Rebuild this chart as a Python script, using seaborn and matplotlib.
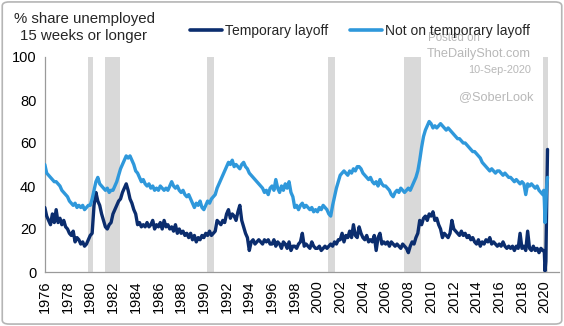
import numpy as np
import pandas as pd
import matplotlib
matplotlib.use("Agg")
import matplotlib.pyplot as plt
import seaborn as sns
from matplotlib.patches import FancyBboxPatch
from matplotlib.lines import Line2D

# ---------------- data ----------------
start_year = 1976
steps_per_year = 6  # bi-monthly readings

temp_layoff = [
    30, 26, 24, 22, 27, 23,   # 1976
    29, 23, 25, 22, 24, 21,   # 1977
    20, 18, 17, 19, 14, 16,   # 1978
    15, 13, 14, 12, 13, 15,   # 1979
    17, 18, 31, 37, 33, 31,   # 1980
    27, 24, 21, 20, 22, 23,   # 1981
    27, 29, 31, 33, 34, 37,   # 1982
    39, 41, 38, 34, 32, 29,   # 1983
    27, 22, 23, 21, 22, 21,   # 1984
    23, 21, 22, 24, 20, 22,   # 1985
    21, 23, 20, 24, 21, 22,   # 1986
    20, 21, 19, 22, 18, 20,   # 1987
    18, 19, 17, 18, 16, 18,   # 1988
    15, 17, 14, 16, 15, 17,   # 1989
    16, 18, 17, 19, 17, 18,   # 1990
    19, 24, 23, 22, 24, 23,   # 1991
    27, 29, 25, 27, 26, 24,   # 1992
    28, 31, 24, 21, 18, 16,   # 1993
    10, 14, 15, 13, 14, 15,   # 1994
    14, 13, 15, 14, 15, 13,   # 1995
    13, 15, 12, 14, 13, 11,   # 1996
    14, 13, 11, 14, 10, 12,   # 1997
    12, 11, 13, 14, 18, 12,   # 1998
    13, 12, 11, 14, 12, 11,   # 1999
    11, 12, 10, 11, 12, 11,   # 2000
    12, 13, 12, 14, 13, 15,   # 2001
    15, 18, 14, 17, 16, 19,   # 2002
    16, 22, 17, 16, 21, 18,   # 2003
    16, 15, 17, 14, 15, 14,   # 2004
    17, 10, 16, 18, 13, 14,   # 2005
    13, 14, 12, 14, 13, 12,   # 2006
    13, 12, 11, 13, 12, 11,   # 2007
    9, 12, 14, 13, 16, 18,    # 2008
    24, 22, 25, 26, 24, 27,   # 2009
    26, 28, 24, 25, 22, 20,   # 2010
    16, 18, 17, 16, 18, 24,   # 2011
    20, 19, 18, 17, 19, 17,   # 2012
    18, 16, 17, 15, 16, 14,   # 2013
    13, 15, 12, 14, 13, 15,   # 2014
    14, 16, 13, 14, 13, 12,   # 2015
    13, 12, 14, 12, 11, 12,   # 2016
    11, 12, 10, 12, 11, 18,   # 2017
    11, 12, 10, 19, 11, 10,   # 2018
    12, 10, 11, 9, 11, 10,    # 2019
]

not_temp_layoff = [
    50, 46, 45, 44, 43, 42,   # 1976
    42, 41, 40, 38, 37, 36,   # 1977
    35, 33, 32, 31, 32, 30,   # 1978
    31, 30, 31, 29, 30, 31,   # 1979
    31, 34, 38, 42, 44, 41,   # 1980
    40, 39, 38, 39, 37, 38,   # 1981
    38, 40, 42, 45, 48, 50,   # 1982
    52, 54, 53, 54, 52, 50,   # 1983
    47, 46, 44, 42, 43, 41,   # 1984
    40, 41, 39, 40, 38, 39,   # 1985
    38, 40, 39, 38, 39, 38,   # 1986
    40, 42, 40, 39, 40, 38,   # 1987
    37, 38, 36, 35, 36, 34,   # 1988
    32, 30, 32, 31, 33, 30,   # 1989
    29, 31, 33, 32, 34, 35,   # 1990
    36, 39, 41, 43, 45, 47,   # 1991
    49, 51, 50, 52, 49, 50,   # 1992
    49, 48, 50, 51, 49, 48,   # 1993
    46, 45, 44, 43, 42, 41,   # 1994
    40, 39, 37, 38, 36, 39,   # 1995
    40, 38, 43, 39, 37, 40,   # 1996
    38, 41, 39, 42, 37, 35,   # 1997
    30, 31, 29, 31, 32, 30,   # 1998
    31, 30, 29, 30, 28, 29,   # 1999
    28, 30, 29, 31, 30, 29,   # 2000
    27, 26, 31, 35, 39, 42,   # 2001
    45, 46, 47, 46, 45, 47,   # 2002
    46, 48, 47, 49, 49, 48,   # 2003
    46, 45, 44, 43, 44, 42,   # 2004
    41, 42, 40, 43, 41, 40,   # 2005
    40, 39, 38, 36, 35, 37,   # 2006
    38, 37, 39, 38, 37, 38,   # 2007
    39, 38, 40, 42, 44, 47,   # 2008
    52, 58, 63, 66, 68, 70,   # 2009
    69, 67, 68, 67, 68, 69,   # 2010
    68, 67, 66, 67, 66, 65,   # 2011
    64, 63, 62, 62, 61, 60,   # 2012
    60, 59, 58, 57, 56, 56,   # 2013
    55, 54, 53, 51, 50, 49,   # 2014
    48, 47, 48, 47, 46, 47,   # 2015
    47, 46, 45, 46, 45, 44,   # 2016
    44, 43, 42, 43, 42, 41,   # 2017
    42, 41, 36, 41, 40, 41,   # 2018
    40, 39, 40, 38, 37, 36,   # 2019
]

# 2020 readings (finer, positions on the chart's date axis)
tail_dates = [2019.92, 2019.97, 2020.03, 2020.10, 2020.17, 2020.25]
tail_temp = [10, 9, 0.5, 5, 30, 57]
tail_not_temp = [38, 33, 23, 30, 40, 44]

recession_start = [1979.76, 1981.30, 1990.24, 2000.89, 2007.62, 2019.84]
recession_end = [1980.24, 1982.60, 1990.85, 2001.56, 2009.09, 2020.28]

year_ticks = list(range(1976, 2021, 2))
y_ticks = [0, 20, 40, 60, 80, 100]

series_names = ["Temporary layoff", "Not on temporary layoff"]
colors = ["#0b2d6e", "#2f98db"]

# ---------------- build table ----------------
dates = [start_year + i / steps_per_year for i in range(len(temp_layoff))] + tail_dates
df = pd.concat([
    pd.DataFrame({"date": dates, "value": temp_layoff + tail_temp, "series": series_names[0]}),
    pd.DataFrame({"date": dates, "value": not_temp_layoff + tail_not_temp, "series": series_names[1]}),
], ignore_index=True)

# ---------------- figure ----------------
sns.set_style("white")
plt.rcParams["font.family"] = ["Liberation Sans", "DejaVu Sans"]

fig = plt.figure(figsize=(5.64, 3.26), dpi=100)
ax = fig.add_axes([44.8 / 564, 1 - 272 / 326, (559 - 44.8) / 564, (272 - 57) / 326])

for s, e in zip(recession_start, recession_end):
    ax.axvspan(s, e, color="#d9d9d9", lw=0, zorder=0)

sns.lineplot(data=df, x="date", y="value", hue="series", hue_order=series_names,
             palette=colors, estimator=None, sort=False, linewidth=2.4,
             legend=False, ax=ax, zorder=3)

ax.set_xlim(1976, 2021.26)
ax.set_ylim(0, 100)
ax.set_xticks(year_ticks)
ax.set_xticklabels([str(y) for y in year_ticks], rotation=90, fontsize=10.5)
ax.set_yticks(y_ticks)
ax.set_yticklabels([str(v) for v in y_ticks], fontsize=10.5)
ax.set_xlabel("")
ax.set_ylabel("")
for side in ["top", "right"]:
    ax.spines[side].set_visible(False)
for side in ["left", "bottom"]:
    ax.spines[side].set_color("#9a9a9a")
    ax.spines[side].set_linewidth(0.9)
ax.tick_params(axis="both", which="major", direction="out", length=4, width=0.9,
               color="#9a9a9a", labelcolor="black", pad=2)
ax.grid(False)

# title
fig.text(84 / 564, 1 - 27.5 / 326, "% share unemployed\n15 weeks or longer",
         ha="center", va="center", multialignment="center", fontsize=10.8,
         linespacing=1.2)

# watermarks
wm = "#b8b8b8"
fig.text(480 / 564, 1 - 38 / 326, "Posted on", ha="right", va="center", fontsize=8.3, color=wm)
fig.text(531 / 564, 1 - 54 / 326, "TheDailyShot.com", ha="right", va="center", fontsize=9.2, color=wm)
fig.text(531 / 564, 1 - 70 / 326, "10-Sep-2020", ha="right", va="center", fontsize=7.8, color=wm)
fig.text(534 / 564, 1 - 97.5 / 326, "@SoberLook", ha="right", va="center", fontsize=9.2, color=wm)

# legend
handles = [Line2D([0], [0], color=c, lw=2.6) for c in colors]
leg = fig.legend(handles, series_names, loc="center left",
                 bbox_to_anchor=(190 / 564, 1 - 30.5 / 326), ncol=2, frameon=False,
                 fontsize=10, handlelength=2.3, handletextpad=0.2, columnspacing=1.6,
                 borderaxespad=0, borderpad=0)

# figure border
border = FancyBboxPatch((0.004, 0.006), 0.992, 0.988, boxstyle="round,pad=0,rounding_size=0.012",
                        transform=fig.transFigure, fill=False, edgecolor="#b5b5b5", lw=1.2)
fig.patches.append(border)

fig.savefig("out.png", dpi=100)
